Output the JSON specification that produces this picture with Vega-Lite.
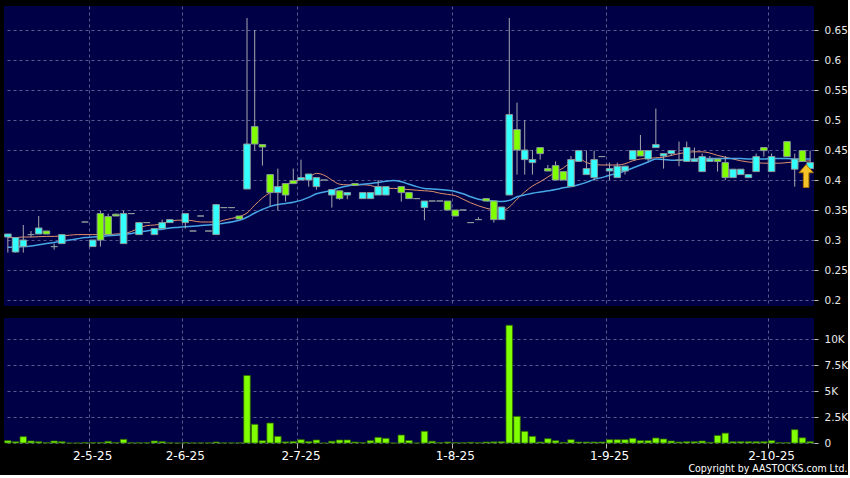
{
  "$schema": "https://vega.github.io/schema/vega-lite/v6.json",
  "background": "#000000",
  "padding": {"left": 4, "top": 6, "right": 0, "bottom": 0},
  "config": {
    "view": {"fill": "#000046", "stroke": null},
    "font": "DejaVu Sans",
    "axis": {"gridColor": "#5a5a90", "gridDash": [3, 3], "gridWidth": 1, "labelColor": "#e8e8e8", "tickColor": "#bbbbbb", "domain": false, "labelFont": "DejaVu Sans", "labelOverlap": false}
  },
  "data": {"values": [
    {"i":0,"o":0.31,"c":0.305,"h":0.31,"l":0.279,"v":224,"m1":0.304,"m2":0.288},
    {"i":1,"o":0.304,"c":0.28,"h":0.305,"l":0.279,"v":128,"m1":0.304,"m2":0.288},
    {"i":2,"o":0.30,"c":0.289,"h":0.325,"l":0.279,"v":609,"m1":0.305,"m2":0.289},
    {"i":3,"o":0.309,"c":0.309,"h":0.315,"l":0.305,"v":192,"m1":0.305,"m2":0.290},
    {"i":4,"o":0.32,"c":0.31,"h":0.34,"l":0.31,"v":128,"m1":0.3055,"m2":0.292},
    {"i":5,"o":0.31,"c":0.315,"h":0.315,"l":0.31,"v":30,"m1":0.306,"m2":0.294},
    {"i":6,"o":0.289,"c":0.289,"h":0.294,"l":0.284,"v":192,"m1":0.306,"m2":0.296},
    {"i":7,"o":0.309,"c":0.294,"h":0.31,"l":0.294,"v":128,"m1":0.307,"m2":0.298},
    {"i":8,"v":0,"m1":0.308,"m2":0.300},
    {"i":9,"v":0,"m1":0.309,"m2":0.302},
    {"i":10,"o":0.33,"c":0.33,"h":0.33,"l":0.33,"v":40,"m1":0.309,"m2":0.304},
    {"i":11,"o":0.30,"c":0.289,"h":0.30,"l":0.289,"v":30,"m1":0.309,"m2":0.305},
    {"i":12,"o":0.30,"c":0.344,"h":0.349,"l":0.289,"v":50,"m1":0.309,"m2":0.306},
    {"i":13,"o":0.309,"c":0.339,"h":0.344,"l":0.309,"v":160,"m1":0.309,"m2":0.307},
    {"i":14,"o":0.34,"c":0.343,"h":0.344,"l":0.34,"v":40,"m1":0.310,"m2":0.308},
    {"i":15,"o":0.344,"c":0.294,"h":0.349,"l":0.294,"v":353,"m1":0.311,"m2":0.309},
    {"i":16,"o":0.344,"c":0.344,"h":0.344,"l":0.344,"v":20,"m1":0.314,"m2":0.311},
    {"i":17,"o":0.329,"c":0.309,"h":0.33,"l":0.309,"v":20,"m1":0.320,"m2":0.313},
    {"i":18,"o":0.329,"c":0.329,"h":0.329,"l":0.329,"v":20,"m1":0.324,"m2":0.315},
    {"i":19,"o":0.319,"c":0.309,"h":0.319,"l":0.309,"v":192,"m1":0.325,"m2":0.317},
    {"i":20,"o":0.329,"c":0.319,"h":0.334,"l":0.319,"v":128,"m1":0.327,"m2":0.318},
    {"i":21,"o":0.334,"c":0.329,"h":0.334,"l":0.329,"v":20,"m1":0.331,"m2":0.320},
    {"i":22,"v":0,"m1":0.333,"m2":0.321},
    {"i":23,"o":0.344,"c":0.329,"h":0.344,"l":0.319,"v":40,"m1":0.333,"m2":0.322},
    {"i":24,"o":0.315,"c":0.315,"h":0.315,"l":0.315,"v":10,"m1":0.332,"m2":0.323},
    {"i":25,"o":0.34,"c":0.34,"h":0.34,"l":0.34,"v":10,"m1":0.330,"m2":0.324},
    {"i":26,"o":0.315,"c":0.315,"h":0.315,"l":0.315,"v":10,"m1":0.330,"m2":0.325},
    {"i":27,"o":0.359,"c":0.309,"h":0.359,"l":0.309,"v":96,"m1":0.330,"m2":0.326},
    {"i":28,"o":0.354,"c":0.354,"h":0.354,"l":0.354,"v":10,"m1":0.333,"m2":0.328},
    {"i":29,"o":0.354,"c":0.354,"h":0.354,"l":0.354,"v":10,"m1":0.336,"m2":0.330},
    {"i":30,"o":0.335,"c":0.34,"h":0.34,"l":0.335,"v":20,"m1":0.339,"m2":0.333},
    {"i":31,"o":0.46,"c":0.385,"h":0.67,"l":0.385,"v":6506,"m1":0.345,"m2":0.338},
    {"i":32,"o":0.46,"c":0.489,"h":0.65,"l":0.449,"v":1800,"m1":0.358,"m2":0.345},
    {"i":33,"o":0.455,"c":0.459,"h":0.46,"l":0.424,"v":224,"m1":0.370,"m2":0.351},
    {"i":34,"o":0.379,"c":0.409,"h":0.41,"l":0.356,"v":1923,"m1":0.379,"m2":0.356},
    {"i":35,"o":0.389,"c":0.379,"h":0.419,"l":0.349,"v":641,"m1":0.386,"m2":0.359},
    {"i":36,"o":0.375,"c":0.394,"h":0.394,"l":0.364,"v":110,"m1":0.392,"m2":0.361},
    {"i":37,"o":0.394,"c":0.399,"h":0.419,"l":0.394,"v":150,"m1":0.397,"m2":0.363},
    {"i":38,"o":0.404,"c":0.40,"h":0.434,"l":0.40,"v":320,"m1":0.401,"m2":0.366},
    {"i":39,"o":0.41,"c":0.40,"h":0.41,"l":0.389,"v":150,"m1":0.405,"m2":0.371},
    {"i":40,"o":0.404,"c":0.389,"h":0.404,"l":0.384,"v":288,"m1":0.411,"m2":0.377},
    {"i":41,"o":0.40,"c":0.40,"h":0.40,"l":0.40,"v":0,"m1":0.408,"m2":0.380},
    {"i":42,"o":0.384,"c":0.375,"h":0.384,"l":0.354,"v":170,"m1":0.400,"m2":0.383},
    {"i":43,"o":0.369,"c":0.382,"h":0.382,"l":0.367,"v":288,"m1":0.393,"m2":0.387},
    {"i":44,"o":0.379,"c":0.375,"h":0.379,"l":0.368,"v":288,"m1":0.392,"m2":0.390},
    {"i":45,"o":0.391,"c":0.394,"h":0.394,"l":0.391,"v":96,"m1":0.392,"m2":0.392},
    {"i":46,"o":0.379,"c":0.369,"h":0.379,"l":0.369,"v":32,"m1":0.392,"m2":0.393},
    {"i":47,"o":0.379,"c":0.369,"h":0.379,"l":0.369,"v":224,"m1":0.391,"m2":0.394},
    {"i":48,"o":0.389,"c":0.375,"h":0.40,"l":0.375,"v":545,"m1":0.387,"m2":0.396},
    {"i":49,"o":0.389,"c":0.375,"h":0.389,"l":0.375,"v":449,"m1":0.386,"m2":0.398},
    {"i":50,"v":0,"m1":0.386,"m2":0.399},
    {"i":51,"o":0.379,"c":0.389,"h":0.389,"l":0.364,"v":769,"m1":0.385,"m2":0.397},
    {"i":52,"o":0.369,"c":0.379,"h":0.379,"l":0.369,"v":240,"m1":0.384,"m2":0.393},
    {"i":53,"o":0.369,"c":0.369,"h":0.369,"l":0.369,"v":0,"m1":0.383,"m2":0.389},
    {"i":54,"o":0.365,"c":0.354,"h":0.365,"l":0.333,"v":1130,"m1":0.382,"m2":0.386},
    {"i":55,"o":0.365,"c":0.365,"h":0.365,"l":0.365,"v":170,"m1":0.381,"m2":0.385},
    {"i":56,"o":0.365,"c":0.365,"h":0.365,"l":0.365,"v":30,"m1":0.378,"m2":0.384},
    {"i":57,"o":0.35,"c":0.365,"h":0.365,"l":0.35,"v":96,"m1":0.376,"m2":0.383},
    {"i":58,"o":0.34,"c":0.35,"h":0.35,"l":0.34,"v":40,"m1":0.374,"m2":0.381},
    {"i":59,"o":0.35,"c":0.35,"h":0.35,"l":0.35,"v":20,"m1":0.368,"m2":0.377},
    {"i":60,"o":0.329,"c":0.329,"h":0.329,"l":0.329,"v":70,"m1":0.362,"m2":0.372},
    {"i":61,"o":0.334,"c":0.334,"h":0.338,"l":0.334,"v":30,"m1":0.357,"m2":0.368},
    {"i":62,"o":0.365,"c":0.369,"h":0.369,"l":0.365,"v":96,"m1":0.353,"m2":0.366},
    {"i":63,"o":0.334,"c":0.365,"h":0.365,"l":0.329,"v":110,"m1":0.350,"m2":0.365},
    {"i":64,"o":0.355,"c":0.334,"h":0.355,"l":0.334,"v":128,"m1":0.348,"m2":0.364},
    {"i":65,"o":0.509,"c":0.375,"h":0.67,"l":0.375,"v":11350,"m1":0.355,"m2":0.366},
    {"i":66,"o":0.45,"c":0.484,"h":0.529,"l":0.409,"v":2564,"m1":0.368,"m2":0.372},
    {"i":67,"o":0.45,"c":0.434,"h":0.50,"l":0.409,"v":1122,"m1":0.380,"m2":0.375},
    {"i":68,"o":0.434,"c":0.429,"h":0.45,"l":0.409,"v":641,"m1":0.390,"m2":0.378},
    {"i":69,"o":0.444,"c":0.454,"h":0.454,"l":0.434,"v":96,"m1":0.397,"m2":0.380},
    {"i":70,"o":0.415,"c":0.419,"h":0.425,"l":0.415,"v":417,"m1":0.405,"m2":0.382},
    {"i":71,"o":0.40,"c":0.424,"h":0.431,"l":0.40,"v":224,"m1":0.413,"m2":0.384},
    {"i":72,"o":0.40,"c":0.414,"h":0.414,"l":0.40,"v":64,"m1":0.420,"m2":0.387},
    {"i":73,"o":0.434,"c":0.389,"h":0.44,"l":0.389,"v":320,"m1":0.430,"m2":0.389},
    {"i":74,"o":0.449,"c":0.431,"h":0.449,"l":0.431,"v":96,"m1":0.436,"m2":0.392},
    {"i":75,"o":0.419,"c":0.409,"h":0.449,"l":0.409,"v":96,"m1":0.429,"m2":0.396},
    {"i":76,"o":0.434,"c":0.404,"h":0.449,"l":0.399,"v":96,"m1":0.426,"m2":0.401},
    {"i":77,"o":0.439,"c":0.439,"h":0.439,"l":0.439,"v":96,"m1":0.425,"m2":0.404},
    {"i":78,"o":0.419,"c":0.415,"h":0.429,"l":0.40,"v":320,"m1":0.425,"m2":0.408},
    {"i":79,"o":0.423,"c":0.404,"h":0.429,"l":0.404,"v":320,"m1":0.425,"m2":0.411},
    {"i":80,"o":0.423,"c":0.415,"h":0.423,"l":0.409,"v":320,"m1":0.427,"m2":0.415},
    {"i":81,"o":0.449,"c":0.434,"h":0.449,"l":0.434,"v":449,"m1":0.432,"m2":0.420},
    {"i":82,"o":0.44,"c":0.449,"h":0.475,"l":0.44,"v":224,"m1":0.435,"m2":0.425},
    {"i":83,"o":0.449,"c":0.435,"h":0.449,"l":0.431,"v":224,"m1":0.436,"m2":0.430},
    {"i":84,"o":0.459,"c":0.454,"h":0.519,"l":0.454,"v":481,"m1":0.437,"m2":0.435},
    {"i":85,"o":0.444,"c":0.44,"h":0.444,"l":0.419,"v":385,"m1":0.438,"m2":0.434},
    {"i":86,"o":0.449,"c":0.444,"h":0.449,"l":0.44,"v":192,"m1":0.441,"m2":0.433},
    {"i":87,"o":0.433,"c":0.433,"h":0.464,"l":0.423,"v":96,"m1":0.444,"m2":0.433},
    {"i":88,"o":0.454,"c":0.431,"h":0.464,"l":0.431,"v":128,"m1":0.446,"m2":0.434},
    {"i":89,"o":0.435,"c":0.431,"h":0.454,"l":0.431,"v":128,"m1":0.447,"m2":0.435},
    {"i":90,"o":0.439,"c":0.414,"h":0.444,"l":0.414,"v":192,"m1":0.447,"m2":0.436},
    {"i":91,"o":0.435,"c":0.431,"h":0.44,"l":0.431,"v":64,"m1":0.445,"m2":0.436},
    {"i":92,"o":0.431,"c":0.435,"h":0.435,"l":0.414,"v":720,"m1":0.441,"m2":0.436},
    {"i":93,"o":0.404,"c":0.429,"h":0.44,"l":0.40,"v":950,"m1":0.438,"m2":0.436},
    {"i":94,"o":0.418,"c":0.404,"h":0.418,"l":0.404,"v":128,"m1":0.435,"m2":0.436},
    {"i":95,"o":0.418,"c":0.409,"h":0.418,"l":0.409,"v":128,"m1":0.432,"m2":0.436},
    {"i":96,"o":0.409,"c":0.404,"h":0.409,"l":0.404,"v":128,"m1":0.430,"m2":0.435},
    {"i":97,"o":0.439,"c":0.414,"h":0.444,"l":0.414,"v":128,"m1":0.429,"m2":0.435},
    {"i":98,"o":0.449,"c":0.454,"h":0.454,"l":0.439,"v":128,"m1":0.428,"m2":0.435},
    {"i":99,"o":0.439,"c":0.414,"h":0.444,"l":0.414,"v":224,"m1":0.428,"m2":0.436},
    {"i":100,"v":32,"m1":0.428,"m2":0.436},
    {"i":101,"o":0.439,"c":0.464,"h":0.464,"l":0.439,"v":32,"m1":0.429,"m2":0.436},
    {"i":102,"o":0.435,"c":0.418,"h":0.444,"l":0.389,"v":1282,"m1":0.430,"m2":0.435},
    {"i":103,"o":0.431,"c":0.449,"h":0.449,"l":0.431,"v":500,"m1":0.431,"m2":0.435},
    {"i":104,"o":0.429,"c":0.419,"h":0.449,"l":0.419,"v":128,"m1":0.432,"m2":0.435,"arrow":0.4067}
  ]},
  "spacing": 12,
  "title": {"text": "Copyright by AASTOCKS.com Ltd.", "orient": "bottom", "anchor": "end", "color": "#ffffff", "fontSize": 10.5, "fontWeight": "normal", "font": "DejaVu Sans Condensed, DejaVu Sans", "offset": 3},
  "vconcat": [
    {
      "width": 810,
      "height": 300,
      "encoding": {
        "x": {"field": "i", "type": "ordinal", "scale": {"paddingInner": 0.15, "paddingOuter": 0.075},
              "axis": {"values": [11, 23, 38, 58, 78, 99], "bandPosition": 0, "labels": false, "ticks": false, "title": null, "grid": true}}
      },
      "layer": [
        {"mark": {"type": "line", "color": "#e0906c", "strokeWidth": 1, "interpolate": "monotone"},
         "encoding": {"y": {"field": "m1", "type": "quantitative", "scale": {"domain": [0.19, 0.69], "zero": false, "nice": false},
           "axis": {"orient": "right", "values": [0.2, 0.25, 0.3, 0.35, 0.4, 0.45, 0.5, 0.55, 0.6, 0.65], "format": ".2~f", "title": null, "tickSize": 4, "labelPadding": 6, "labelFontSize": 10.5, "grid": true}}}},
        {"mark": {"type": "line", "color": "#46a6e6", "strokeWidth": 1.5, "interpolate": "monotone"},
         "encoding": {"y": {"field": "m2", "type": "quantitative",
           "axis": {"orient": "right", "values": [0.2, 0.25, 0.3, 0.35, 0.4, 0.45, 0.5, 0.55, 0.6, 0.65], "format": ".2~f", "title": null, "tickSize": 4, "labelPadding": 6, "labelFontSize": 10.5, "grid": true}}}},
        {"mark": {"type": "rule", "color": "#a8a8b0", "strokeWidth": 1},
         "encoding": {"y": {"field": "l", "type": "quantitative",
           "axis": {"orient": "right", "values": [0.2, 0.25, 0.3, 0.35, 0.4, 0.45, 0.5, 0.55, 0.6, 0.65], "format": ".2~f", "title": null, "tickSize": 4, "labelPadding": 6, "labelFontSize": 10.5, "grid": true}}, "y2": {"field": "h"}}},
        {"mark": {"type": "bar", "stroke": "#8a9a9a", "strokeWidth": 1},
         "encoding": {"y": {"field": "o", "type": "quantitative",
           "axis": {"orient": "right", "values": [0.2, 0.25, 0.3, 0.35, 0.4, 0.45, 0.5, 0.55, 0.6, 0.65], "format": ".2~f", "title": null, "tickSize": 4, "labelPadding": 6, "labelFontSize": 10.5, "grid": true}}, "y2": {"field": "c"},
           "fill": {"condition": {"test": "datum.c >= datum.o", "value": "#80ff00"}, "value": "#33ffff"}}},
        {"mark": {"type": "point", "shape": "M0,-1L0.62,-0.28L0.24,-0.28L0.24,1L-0.24,1L-0.24,-0.28L-0.62,-0.28Z", "filled": true, "fill": "#f6c22a", "stroke": "#b07800", "strokeWidth": 1, "size": 530, "xOffset": -4, "opacity": 1},
         "encoding": {"y": {"field": "arrow", "type": "quantitative",
           "axis": {"orient": "right", "values": [0.2, 0.25, 0.3, 0.35, 0.4, 0.45, 0.5, 0.55, 0.6, 0.65], "format": ".2~f", "title": null, "tickSize": 4, "labelPadding": 6, "labelFontSize": 10.5, "grid": true}}}}
      ]
    },
    {
      "width": 810,
      "height": 125,
      "mark": {"type": "bar", "fill": "#80ff00", "stroke": "#2f6a00", "strokeWidth": 0.8},
      "encoding": {
        "x": {"field": "i", "type": "ordinal", "scale": {"paddingInner": 0.15, "paddingOuter": 0.075},
              "axis": {"values": [11, 23, 38, 58, 78, 99], "bandPosition": 0, "labelAngle": 0, "title": null, "grid": true, "tickSize": 5, "labelPadding": 2, "labelFontSize": 12, "labelColor": "#ffffff",
                       "labelExpr": "datum.value == 11 ? '2-5-25' : datum.value == 23 ? '2-6-25' : datum.value == 38 ? '2-7-25' : datum.value == 58 ? '1-8-25' : datum.value == 78 ? '1-9-25' : '2-10-25'"}},
        "y": {"field": "v", "type": "quantitative", "scale": {"domain": [0, 12050], "nice": false},
              "axis": {"orient": "right", "values": [0, 2500, 5000, 7500, 10000], "title": null, "tickSize": 4, "labelPadding": 6, "labelFontSize": 10.5, "grid": true,
                       "labelExpr": "datum.value == 0 ? '0' : (datum.value / 1000) + 'K'"}}
      }
    }
  ]
}
